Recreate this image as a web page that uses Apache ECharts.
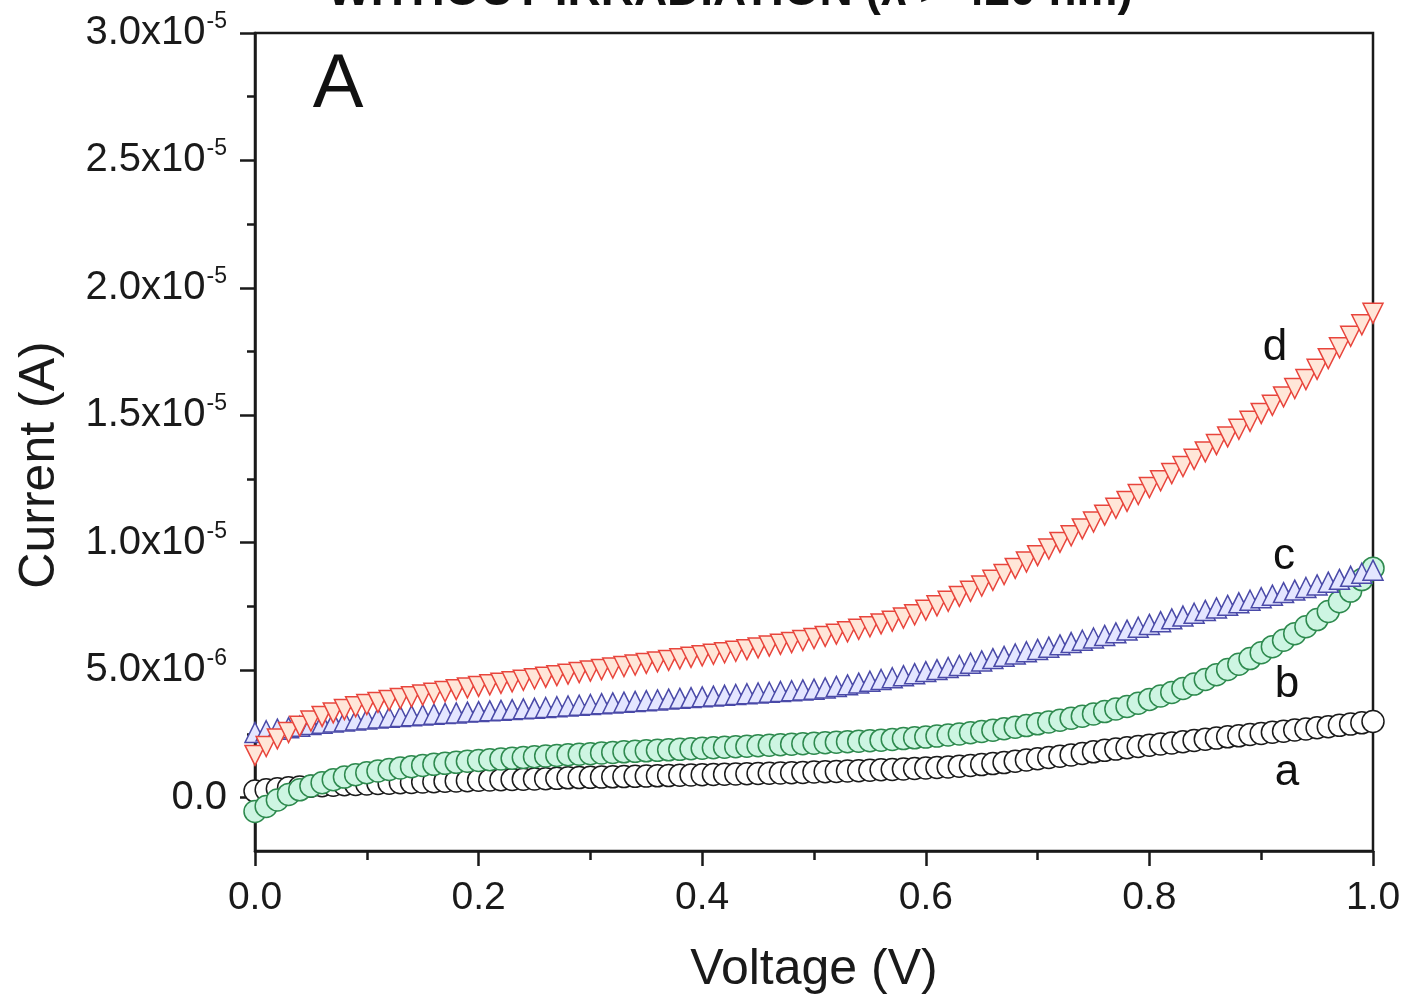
<!DOCTYPE html>
<html>
<head>
<meta charset="utf-8">
<script src="https://cdn.jsdelivr.net/npm/echarts@6/dist/echarts.min.js"></script>
<style>
html,body{margin:0;padding:0;background:#fff;}
#chart{width:1406px;height:995px;}
</style>
</head>
<body>
<div id="chart"></div>
<script>
// Voltage (V), 0.00 .. 1.00 step 0.01
const voltage = [0.00,0.01,0.02,0.03,0.04,0.05,0.06,0.07,0.08,0.09,0.10,0.11,0.12,0.13,0.14,0.15,0.16,0.17,0.18,0.19,0.20,0.21,0.22,0.23,0.24,0.25,0.26,0.27,0.28,0.29,0.30,0.31,0.32,0.33,0.34,0.35,0.36,0.37,0.38,0.39,0.40,0.41,0.42,0.43,0.44,0.45,0.46,0.47,0.48,0.49,0.50,0.51,0.52,0.53,0.54,0.55,0.56,0.57,0.58,0.59,0.60,0.61,0.62,0.63,0.64,0.65,0.66,0.67,0.68,0.69,0.70,0.71,0.72,0.73,0.74,0.75,0.76,0.77,0.78,0.79,0.80,0.81,0.82,0.83,0.84,0.85,0.86,0.87,0.88,0.89,0.90,0.91,0.92,0.93,0.94,0.95,0.96,0.97,0.98,0.99,1.00];

// Currents in units of 1e-6 A
const curveA = [0.25,0.30,0.34,0.38,0.41,0.44,0.46,0.48,0.50,0.51,0.53,0.55,0.56,0.58,0.59,0.61,0.62,0.64,0.65,0.66,0.68,0.69,0.70,0.71,0.72,0.73,0.74,0.75,0.77,0.78,0.79,0.80,0.81,0.82,0.83,0.84,0.85,0.86,0.87,0.88,0.89,0.90,0.91,0.92,0.93,0.94,0.95,0.96,0.97,0.98,1.00,1.01,1.02,1.04,1.05,1.07,1.09,1.10,1.12,1.14,1.16,1.18,1.20,1.23,1.26,1.29,1.33,1.37,1.42,1.47,1.52,1.57,1.62,1.67,1.73,1.79,1.85,1.90,1.95,2.00,2.05,2.10,2.14,2.19,2.24,2.29,2.33,2.38,2.42,2.47,2.51,2.56,2.60,2.65,2.69,2.74,2.78,2.83,2.88,2.93,2.98];

const curveB = [-0.55,-0.35,-0.10,0.12,0.30,0.45,0.58,0.70,0.80,0.89,0.97,1.04,1.10,1.16,1.21,1.26,1.30,1.34,1.38,1.42,1.45,1.48,1.51,1.54,1.57,1.60,1.63,1.65,1.68,1.70,1.72,1.75,1.77,1.79,1.81,1.83,1.85,1.87,1.89,1.91,1.93,1.95,1.97,1.99,2.01,2.03,2.05,2.07,2.09,2.11,2.13,2.15,2.17,2.19,2.21,2.23,2.25,2.28,2.31,2.34,2.37,2.41,2.45,2.49,2.54,2.59,2.64,2.70,2.76,2.82,2.89,2.96,3.03,3.11,3.19,3.28,3.37,3.47,3.57,3.70,3.85,3.98,4.12,4.28,4.45,4.63,4.82,5.02,5.23,5.45,5.68,5.92,6.17,6.43,6.70,6.98,7.30,7.68,8.10,8.55,9.00];

const curveC = [2.55,2.62,2.68,2.74,2.80,2.86,2.91,2.96,3.00,3.04,3.08,3.12,3.15,3.18,3.21,3.24,3.27,3.30,3.32,3.35,3.37,3.40,3.42,3.45,3.48,3.50,3.53,3.56,3.59,3.62,3.65,3.68,3.71,3.74,3.77,3.80,3.83,3.86,3.89,3.92,3.95,3.98,4.01,4.04,4.07,4.10,4.13,4.16,4.19,4.22,4.25,4.30,4.36,4.42,4.49,4.56,4.63,4.70,4.78,4.86,4.94,5.02,5.10,5.18,5.27,5.36,5.45,5.54,5.63,5.72,5.81,5.90,5.99,6.08,6.17,6.26,6.36,6.46,6.57,6.68,6.79,6.90,7.01,7.12,7.23,7.34,7.44,7.54,7.64,7.74,7.84,7.94,8.04,8.14,8.24,8.34,8.45,8.56,8.68,8.80,8.92];

const curveD = [1.65,2.00,2.30,2.55,2.80,3.00,3.18,3.32,3.45,3.56,3.65,3.73,3.81,3.88,3.95,4.02,4.09,4.16,4.23,4.30,4.36,4.42,4.48,4.54,4.60,4.66,4.72,4.78,4.84,4.90,4.96,5.02,5.08,5.14,5.20,5.26,5.32,5.38,5.44,5.50,5.56,5.62,5.68,5.74,5.80,5.87,5.94,6.01,6.08,6.16,6.24,6.32,6.41,6.50,6.60,6.70,6.81,6.92,7.04,7.17,7.35,7.52,7.70,7.89,8.09,8.30,8.52,8.75,8.99,9.24,9.49,9.75,10.01,10.27,10.54,10.81,11.08,11.35,11.62,11.89,12.16,12.43,12.71,12.99,13.27,13.56,13.85,14.15,14.45,14.76,15.07,15.39,15.72,16.05,16.40,16.80,17.22,17.65,18.10,18.55,19.00];

// Axis ticks (units of 1e-6 A)
const yMajorTicks = [0,5,10,15,20,25,30];
const yMinorTicks = [2.5,7.5,12.5,17.5,22.5,27.5];
const yTickLabels = {0:'{m|0.0}',5:'{m|5.0x10}{s|-6}',10:'{m|1.0x10}{s|-5}',15:'{m|1.5x10}{s|-5}',20:'{m|2.0x10}{s|-5}',25:'{m|2.5x10}{s|-5}',30:'{m|3.0x10}{s|-5}'};
const curveLabels = ['a','b','c','d'];

const FONT = '"Liberation Sans", Arial, Helvetica, sans-serif';
const pairs = arr => voltage.map((v,i)=>[v, arr[i]]);

const chart = echarts.init(document.getElementById('chart'), null, {renderer:'canvas'});

function mkSeries(name, data, color, fill, symbol, rotate, size){
  return {
    name, type:'line', data: pairs(data),
    showAllSymbol:true, symbol, symbolRotate: rotate, symbolSize: size,
    lineStyle:{color, width:1.5},
    itemStyle:{color: fill, borderColor: color, borderWidth:1.5},
    emphasis:{disabled:true}, animation:false, z:2
  };
}

const option = {
  animation:false,
  backgroundColor:'#fff',
  grid:{left:255, right:33, top:33, bottom:144, containLabel:false, outerBoundsMode:'none',
        show:true, borderColor:'#1a1a1a', borderWidth:2.5, backgroundColor:'transparent'},
  xAxis:{
    type:'value', min:0, max:1, interval:0.2,
    name:'Voltage (V)', nameLocation:'middle', nameGap:94,
    nameTextStyle:{fontFamily:FONT, fontSize:50, color:'#1a1a1a'},
    axisLine:{show:true, onZero:false, lineStyle:{color:'#1a1a1a', width:2.5}},
    axisTick:{show:true, inside:false, length:15, lineStyle:{color:'#1a1a1a', width:2.5}},
    minorTick:{show:true, splitNumber:2, length:9, lineStyle:{color:'#1a1a1a', width:2.5}},
    axisLabel:{fontFamily:FONT, fontSize:39, color:'#1a1a1a', margin:28, formatter:v=>v.toFixed(1)},
    splitLine:{show:false}, minorSplitLine:{show:false}
  },
  yAxis:[{
    type:'value', min:-2.1, max:30,
    axisLine:{show:true, onZero:false, lineStyle:{color:'#1a1a1a', width:2.5}},
    axisTick:{show:true, inside:false, length:15, customValues:yMajorTicks, lineStyle:{color:'#1a1a1a', width:2.5}},
    axisLabel:{
      customValues:yMajorTicks, margin:28, color:'#1a1a1a',
      formatter:v=>yTickLabels[Math.round(v)] || '',
      rich:{
        m:{fontFamily:FONT, fontSize:40, color:'#1a1a1a', lineHeight:46},
        s:{fontFamily:FONT, fontSize:23, color:'#1a1a1a', lineHeight:46, verticalAlign:'top', padding:[0,0,0,1]}
      }
    },
    splitLine:{show:false}
  },{
    type:'value', min:-2.1, max:30, position:'left',
    axisLine:{show:false},
    axisTick:{show:true, inside:false, length:8, customValues:yMinorTicks, lineStyle:{color:'#1a1a1a', width:2.5}},
    axisLabel:{show:false},
    splitLine:{show:false}
  }],
  series:[
    mkSeries('a', curveA, '#1a1a1a', '#ffffff', 'circle', 0, 22),
    mkSeries('b', curveB, '#2e8a4e', '#cdf5e2', 'circle', 0, 22),
    mkSeries('c', curveC, '#4a4aa8', '#e4e6ff', 'triangle', 0, [20,20]),
    mkSeries('d', curveD, '#e8453c', '#ffe6d8', 'triangle', 180, [20,20])
  ],
  graphic:[
    {type:'text', x:730, y:-8, style:{text:'WITHOUT IRRADIATION (λ > 420 nm)', font:'bold 46px '+FONT, fill:'#111', align:'center', verticalAlign:'middle'}},
    {type:'text', x:40, y:465, rotation:Math.PI/2, style:{text:'Current (A)', font:'50px '+FONT, fill:'#1a1a1a', align:'center', verticalAlign:'middle'}},
    {type:'text', x:338, y:86, style:{text:'A', font:'76px '+FONT, fill:'#111', align:'center', verticalAlign:'middle'}},
    {type:'text', x:1275, y:348, style:{text:curveLabels[3], font:'44px '+FONT, fill:'#111', align:'center', verticalAlign:'middle'}},
    {type:'text', x:1284, y:557, style:{text:curveLabels[2], font:'44px '+FONT, fill:'#111', align:'center', verticalAlign:'middle'}},
    {type:'text', x:1287, y:685, style:{text:curveLabels[1], font:'44px '+FONT, fill:'#111', align:'center', verticalAlign:'middle'}},
    {type:'text', x:1287, y:773, style:{text:curveLabels[0], font:'44px '+FONT, fill:'#111', align:'center', verticalAlign:'middle'}}
  ]
};
chart.setOption(option);
</script>
</body>
</html>
